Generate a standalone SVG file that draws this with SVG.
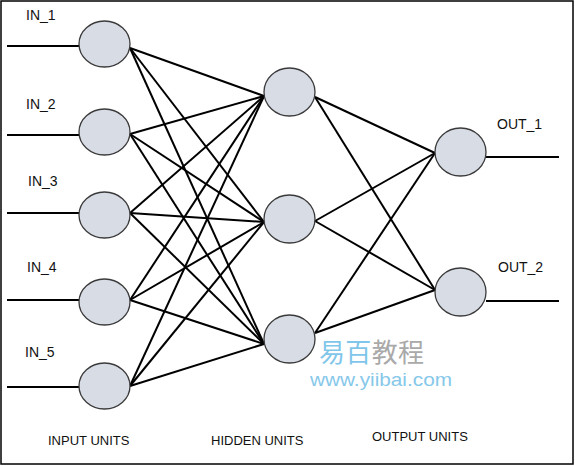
<svg xmlns="http://www.w3.org/2000/svg" width="575" height="466" viewBox="0 0 575 466">
<style>
.n{fill:#d8dce5;stroke:#3a3a3a;stroke-width:1.3}
.c line{stroke:#000;stroke-width:2}
.t{font-family:"Liberation Sans",Arial,sans-serif;font-size:14px;fill:#111}
.b{font-family:"Liberation Sans",Arial,sans-serif;font-size:13px;fill:#111}
</style>
<rect x="1" y="1" width="572" height="463" fill="#fff" stroke="#000" stroke-width="1.5"/>
<g id="connectors" class="c">
<line x1="7" y1="46" x2="79" y2="46"/>
<line x1="7" y1="135" x2="79" y2="135"/>
<line x1="7" y1="213" x2="79" y2="213"/>
<line x1="7" y1="300" x2="79" y2="300"/>
<line x1="7" y1="387" x2="79" y2="387"/>
<line x1="486" y1="157" x2="559" y2="157"/>
<line x1="486" y1="301" x2="559" y2="301"/>
<line x1="130" y1="48" x2="264" y2="96"/>
<line x1="130" y1="48" x2="264" y2="222"/>
<line x1="130" y1="48" x2="264" y2="344"/>
<line x1="130" y1="134" x2="264" y2="96"/>
<line x1="130" y1="134" x2="264" y2="222"/>
<line x1="130" y1="134" x2="264" y2="344"/>
<line x1="130" y1="213" x2="264" y2="96"/>
<line x1="130" y1="213" x2="264" y2="222"/>
<line x1="130" y1="213" x2="264" y2="344"/>
<line x1="130" y1="300" x2="264" y2="96"/>
<line x1="130" y1="300" x2="264" y2="222"/>
<line x1="130" y1="300" x2="264" y2="344"/>
<line x1="130" y1="386" x2="264" y2="96"/>
<line x1="130" y1="386" x2="264" y2="222"/>
<line x1="130" y1="386" x2="264" y2="344"/>
<line x1="315" y1="97" x2="435" y2="153"/>
<line x1="315" y1="97" x2="435" y2="290"/>
<line x1="315" y1="221" x2="435" y2="153"/>
<line x1="315" y1="221" x2="435" y2="290"/>
<line x1="315" y1="333" x2="435" y2="153"/>
<line x1="315" y1="333" x2="435" y2="290"/>
</g>
<g id="in1"><ellipse class="n" cx="104.5" cy="44" rx="25.5" ry="23"/><text class="t" x="26" y="20">IN_1</text></g>
<g id="in2"><ellipse class="n" cx="104.5" cy="132" rx="25.5" ry="23"/><text class="t" x="26" y="109">IN_2</text></g>
<g id="in3"><ellipse class="n" cx="104.5" cy="215" rx="25.5" ry="23"/><text class="t" x="28" y="186">IN_3</text></g>
<g id="in4"><ellipse class="n" cx="104.5" cy="302" rx="25.5" ry="23"/><text class="t" x="27" y="272">IN_4</text></g>
<g id="in5"><ellipse class="n" cx="104.5" cy="386" rx="25.5" ry="23"/><text class="t" x="25" y="357">IN_5</text></g>
<g id="h1"><ellipse class="n" cx="289.5" cy="92" rx="25.5" ry="24"/></g>
<g id="h2"><ellipse class="n" cx="289.5" cy="219" rx="25.5" ry="24"/></g>
<g id="h3"><ellipse class="n" cx="289.5" cy="339" rx="25.5" ry="24"/></g>
<g id="o1"><ellipse class="n" cx="460.5" cy="152" rx="25.5" ry="24"/><text class="t" x="497" y="129">OUT_1</text></g>
<g id="o2"><ellipse class="n" cx="460.5" cy="292" rx="25.5" ry="24"/><text class="t" x="498" y="272">OUT_2</text></g>
<g id="labels">
<text class="b" x="48" y="445">INPUT UNITS</text>
<text class="b" x="211" y="445">HIDDEN UNITS</text>
<text class="b" x="372" y="441">OUTPUT UNITS</text>
</g>
<g id="watermark" font-family="'Noto Sans CJK SC',sans-serif">
<text x="319" y="362" font-size="26" fill="#7fc6ea" textLength="105">易百<tspan fill="#a9a9a9">教程</tspan></text>
<text x="310" y="386" font-size="18" fill="#86c8ea" font-family="'Liberation Sans',sans-serif" textLength="142" lengthAdjust="spacingAndGlyphs">www.yiibai.com</text>
</g>
</svg>
